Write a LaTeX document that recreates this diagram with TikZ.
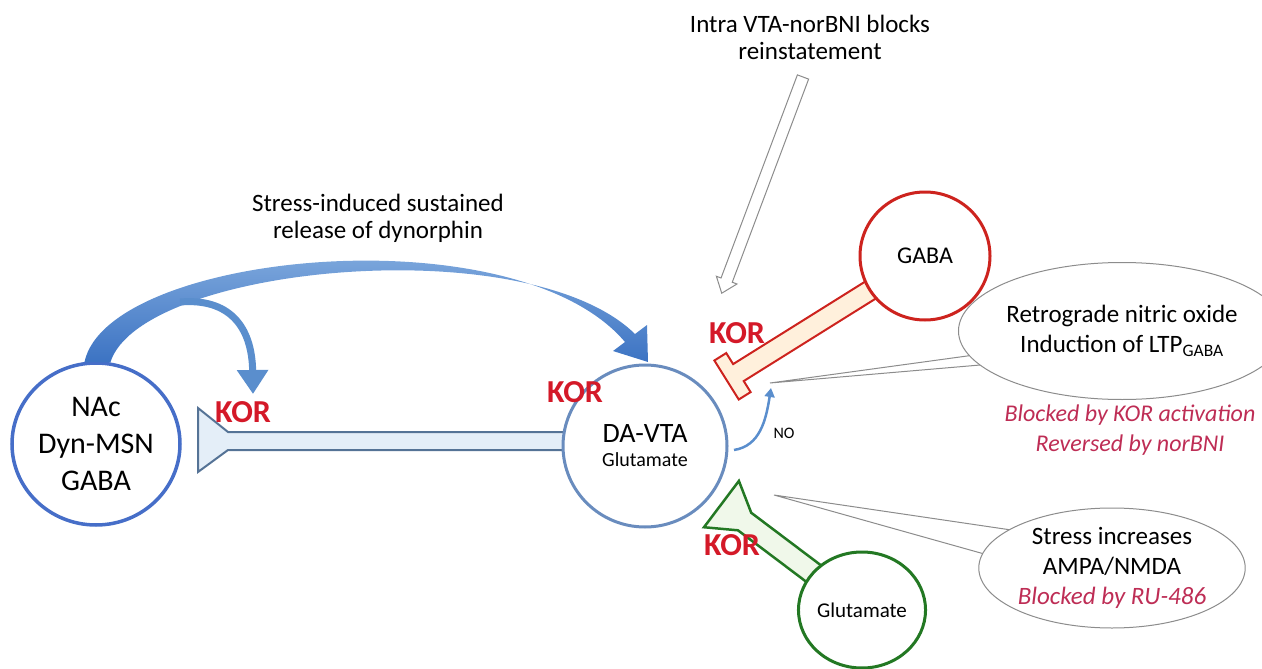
\documentclass[tikz,border=0pt]{standalone}
\usepackage{fontspec}
\setmainfont{Carlito}
\usepackage{tikz}
\usetikzlibrary{arrows.meta}
\usetikzlibrary{calc}
\usetikzlibrary{shapes}
\usetikzlibrary{backgrounds}

\definecolor{nacblue}{RGB}{70,110,200}
\definecolor{vtablue}{RGB}{105,140,190}
\definecolor{axonfill}{RGB}{228,238,248}
\definecolor{axondraw}{RGB}{85,115,150}
\definecolor{arrowblue}{RGB}{90,142,205}
\definecolor{arrowlight}{RGB}{150,188,230}
\definecolor{arrowdark}{RGB}{60,115,195}
\definecolor{gabared}{RGB}{205,35,30}
\definecolor{gabafill}{RGB}{255,240,220}
\definecolor{glugreen}{RGB}{35,120,35}
\definecolor{glufill}{RGB}{240,248,234}
\definecolor{korred}{RGB}{212,25,40}
\definecolor{notered}{RGB}{190,45,85}
\definecolor{bubblegray}{RGB}{140,140,140}

\begin{document}
\begin{tikzpicture}[x=1pt, y=-1pt,
        nac_style/.style={ellipse, draw=nacblue, line width=3.5pt, fill=white, minimum width=168pt, minimum height=162pt, inner sep=0pt, align=center, font=\fontsize{30}{37}\selectfont},
        vta_style/.style={ellipse, draw=vtablue, line width=3pt, fill=white, minimum width=164pt, minimum height=162pt, inner sep=0pt, align=center},
        gaba_style/.style={ellipse, draw=gabared, line width=3pt, fill=white, minimum width=130pt, minimum height=128pt, inner sep=0pt, font=\fontsize{24}{26}\selectfont},
        glu_style/.style={ellipse, draw=glugreen, line width=3pt, fill=white, minimum width=126pt, minimum height=116pt, inner sep=0pt, font=\fontsize{21}{24}\selectfont},
        bubble_style/.style={ellipse, draw=bubblegray, line width=1pt, fill=white, inner sep=0pt, align=center, font=\fontsize{25}{30}\selectfont},
        tail_style/.style={draw=bubblegray, line width=1pt, fill=white},
        kor_style/.style={text=korred, font=\fontsize{32}{34}\selectfont\bfseries},
        note_style/.style={text=notered, align=center, font=\fontsize{24}{30}\selectfont\itshape},
        caption_style/.style={align=center, font=\fontsize{25}{27}\selectfont},
        axon_style/.style={draw=axondraw, line width=2pt, fill=axonfill},
        red_axon_style/.style={draw=gabared, line width=2pt, fill=gabafill},
        green_axon_style/.style={draw=glugreen, line width=2.5pt, fill=glufill},
        release_style/.style={top color=arrowlight, bottom color=arrowdark},
        feedback_style/.style={draw=arrowblue, line width=7pt, -{Triangle[length=24pt, width=30pt]}},
        no_style/.style={draw=arrowblue, line width=2.5pt, -{Triangle[length=9pt, width=10pt]}},
        hollow_style/.style={draw=bubblegray, line width=1pt, fill=white}]

        \useasboundingbox (0,0) rectangle (1262,669);

        \node [nac_style] (nac) at (96,444) {NAc\\Dyn-MSN\\GABA};

        \node [vta_style] (vta) at (645,446) {{\fontsize{28}{30}\selectfont DA-VTA}\\[9pt]{\fontsize{20}{22}\selectfont Glutamate}};

        \node [gaba_style] (gaba) at (925,256) {GABA};

        \node [glu_style] (glu) at (862,610) {Glutamate};

        \node [bubble_style, minimum width=260pt, minimum height=137pt] (bub1) at (1122,331) {Retrograde nitric oxide\\Induction of LTP\textsubscript{GABA}};

        \node [bubble_style, minimum width=248pt, minimum height=120pt] (bub2) at (1112,568) {Stress increases\\AMPA/NMDA\\{\color{notered}\itshape Blocked by RU-486}};

        \node [note_style] (note) at (1130,430) {Blocked by KOR activation\\Reversed by norBNI};

        \node [caption_style] (release) at (378,218) {Stress-induced sustained\\release of dynorphin};

        \node [caption_style] (intra) at (810,37) {Intra VTA-norBNI blocks\\reinstatement};

        \node [kor_style] (kor_nac) at (243,412) {KOR};

        \node [kor_style] (kor_vta) at (575,392) {KOR};

        \node [kor_style] (kor_gaba) at (737,333) {KOR};

        \node [kor_style] (kor_glu) at (732,545) {KOR};

        \node [font=\fontsize{16}{18}\selectfont] (no_label) at (784,433) {NO};

        \coordinate (nac_term) at (198,440);

        \coordinate (intra_tail) at (803,77);

        \coordinate (release_tip) at (648,362);

        \coordinate (branch) at (180,302);

        \coordinate (feedback_tip) at (253,394);

        \coordinate (no_start) at (734,450);

        \coordinate (no_tip) at (771,388);

        \coordinate (tail1) at (770,383);

        \coordinate (tail2) at (774,495);

        % axons and bubble tails behind the cells
        \begin{pgfonlayer}{background}
        \draw [axon_style] ($(vta.center)+(0,-14)$) -- (228,432) -- ($(nac_term)+(0,-32)$) -- ($(nac_term)+(0,32)$) -- (228,450) -- ($(vta.center)+(0,4)$) -- cycle;

        \begin{scope}[shift={(gaba.center)}, rotate=212]
        \draw [red_axon_style] (0,-10) -- (220,-10) -- (220,-23) -- (234,-23) -- (234,23) -- (220,23) -- (220,10) -- (0,10) -- cycle;
        \end{scope}

        \begin{scope}[shift={(glu.center)}, rotate=143]
        \draw [green_axon_style] (0,-11) -- (147,-11) -- (176,-29) -- (176,29) -- (147,11) -- (0,11) -- cycle;
        \end{scope}

        \draw [tail_style] (tail1) -- ($(bub1.center)+(-60,12)$) -- ($(bub1.center)+(-60,27)$) -- cycle;

        \draw [tail_style] (tail2) -- ($(bub2.center)+(-60,-32)$) -- ($(bub2.center)+(-60,5)$) -- cycle;
        \end{pgfonlayer}

        \begin{scope}[shift={(intra_tail)}, rotate=249.4]
        \draw [hollow_style] (0,-6) -- (217,-6) -- (217,-11) -- (231,0) -- (217,11) -- (217,6) -- (0,6) -- cycle;
        \end{scope}

        % tapered release arrow from NAc to VTA
        \shade [release_style] (nac.98) .. controls (108,252) and (515,212) .. (625,342) -- (613,351) -- (release_tip) -- (647,325) -- (635,334) .. controls (527,228) and (140,266) .. (nac.80) -- cycle;

        \draw [feedback_style] (branch) .. controls (228,298) and (252,325) .. (feedback_tip);

        \draw [no_style] (no_start) .. controls (760,446) and (766,420) .. (no_tip);

        \end{tikzpicture}
\end{document}
